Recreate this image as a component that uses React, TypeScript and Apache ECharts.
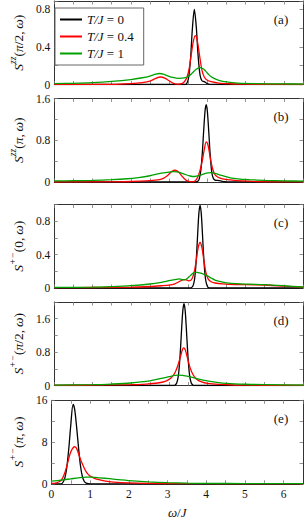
import React, { useEffect, useRef } from 'react';
import * as echarts from 'echarts';

// ---------------- data ----------------
const SERIES_NAMES = ['T/J = 0', 'T/J = 0.4', 'T/J = 1'];
const X_MIN = 0;
const X_MAX = 6.5;
const X_TICK_STEP = 0.5;
const PANEL_TAGS = ['(a)', '(b)', '(c)', '(d)', '(e)'];
const Y_MAX = [0.89, 1.6, 1.0, 2.0, 16];
const Y_TICK_STEP = [0.2, 0.4, 0.2, 0.4, 4];
const Y_LABEL_STEP = [0.4, 0.8, 0.4, 0.8, 8];
const Y_NAMES = [
  '{s|S}{p|zz}{n|(}{s|π}{n|/2,\u2009}{s|ω}{n|)}',
  '{s|S}{p|zz}{n|(}{s|π}{n|,\u2009}{s|ω}{n|)}',
  '{s|S}{p|+−}{n|(0,\u2009}{s|ω}{n|)}',
  '{s|S}{p|+−}{n|(}{s|π}{n|/2,\u2009}{s|ω}{n|)}',
  '{s|S}{p|+−}{n|(}{s|π}{n|,\u2009}{s|ω}{n|)}',
];

// (a) S^zz(pi/2, w)
const A_T0 = [[0,0],[3.4,0],[3.46,0.01],[3.51,0.07],[3.56,0.27],[3.61,0.6],[3.66,0.8],[3.71,0.62],[3.76,0.3],[3.81,0.1],[3.86,0.04],[3.92,0.03],[4.0,0.01],[4.1,0],[6.5,0]];
const A_T04 = [[0,0],[1.5,0.002],[2.0,0.01],[2.3,0.02],[2.5,0.035],[2.65,0.065],[2.78,0.08],[2.9,0.065],[3.0,0.04],[3.1,0.015],[3.2,0.004],[3.3,0.006],[3.4,0.03],[3.47,0.08],[3.53,0.18],[3.58,0.32],[3.64,0.47],[3.69,0.52],[3.74,0.46],[3.8,0.3],[3.86,0.15],[3.92,0.08],[4.0,0.045],[4.1,0.03],[4.3,0.015],[4.6,0.008],[5,0.003],[6.5,0]];
const A_T1 = [[0,0.01],[0.5,0.013],[1,0.02],[1.5,0.033],[2,0.053],[2.3,0.072],[2.5,0.09],[2.65,0.11],[2.75,0.117],[2.85,0.11],[2.95,0.095],[3.1,0.075],[3.25,0.065],[3.4,0.07],[3.5,0.085],[3.6,0.12],[3.7,0.16],[3.8,0.18],[3.88,0.17],[3.96,0.14],[4.05,0.1],[4.15,0.07],[4.3,0.045],[4.5,0.027],[4.8,0.015],[5.2,0.01],[6,0.006],[6.5,0.005]];

// (b) S^zz(pi, w)
const B_T0 = [[0,0],[3.7,0],[3.75,0.013],[3.79,0.066],[3.83,0.22],[3.87,0.57],[3.9,0.93],[3.94,1.36],[3.97,1.48],[4.0,1.36],[4.04,0.93],[4.07,0.57],[4.11,0.22],[4.15,0.08],[4.2,0.035],[4.27,0.03],[4.35,0.02],[4.45,0.005],[4.55,0],[6.5,0]];
const B_T04 = [[0,0],[1.5,0.003],[2.0,0.01],[2.4,0.02],[2.7,0.04],[2.85,0.07],[2.97,0.13],[3.07,0.2],[3.16,0.225],[3.25,0.19],[3.34,0.11],[3.42,0.05],[3.5,0.015],[3.6,0.003],[3.68,0.02],[3.74,0.08],[3.8,0.2],[3.86,0.38],[3.92,0.62],[3.97,0.77],[4.02,0.7],[4.08,0.45],[4.14,0.25],[4.2,0.14],[4.28,0.09],[4.4,0.06],[4.6,0.04],[4.9,0.02],[5.3,0.008],[6,0.003],[6.5,0.002]];
const B_T1 = [[0,0.02],[0.5,0.025],[1,0.032],[1.5,0.045],[1.9,0.062],[2.2,0.085],[2.5,0.12],[2.8,0.17],[3.0,0.19],[3.12,0.2],[3.25,0.19],[3.4,0.15],[3.55,0.115],[3.66,0.105],[3.8,0.125],[3.95,0.165],[4.08,0.18],[4.2,0.165],[4.4,0.12],[4.6,0.08],[4.8,0.06],[5.1,0.045],[5.5,0.032],[6,0.022],[6.5,0.015]];

// (c) S^+-(0, w)
const C_T0 = [[0,0],[3.55,0],[3.58,0.003],[3.62,0.02],[3.66,0.087],[3.69,0.21],[3.72,0.41],[3.75,0.67],[3.78,0.9],[3.81,0.99],[3.84,0.9],[3.87,0.67],[3.9,0.41],[3.93,0.21],[3.96,0.087],[4.0,0.02],[4.04,0.003],[4.1,0],[6.5,0]];
const C_T04 = [[0,0.004],[1,0.006],[2,0.01],[2.5,0.018],[2.8,0.027],[3.0,0.035],[3.15,0.05],[3.28,0.08],[3.38,0.1],[3.45,0.098],[3.53,0.085],[3.6,0.11],[3.66,0.2],[3.71,0.33],[3.76,0.48],[3.81,0.545],[3.86,0.48],[3.91,0.33],[3.96,0.19],[4.02,0.11],[4.1,0.075],[4.2,0.06],[4.4,0.05],[4.75,0.042],[5.2,0.038],[5.6,0.033],[6,0.022],[6.5,0.01]];
const C_T1 = [[0,0.007],[1,0.01],[1.5,0.017],[2,0.028],[2.5,0.048],[2.8,0.068],[3.0,0.087],[3.15,0.1],[3.27,0.11],[3.37,0.097],[3.45,0.105],[3.55,0.145],[3.63,0.18],[3.7,0.19],[3.8,0.18],[3.9,0.165],[4.0,0.145],[4.1,0.12],[4.2,0.095],[4.35,0.075],[4.5,0.062],[4.75,0.052],[5.1,0.046],[5.5,0.04],[6,0.027],[6.5,0.012]];

// (d) S^+-(pi/2, w)
const D_T0 = [[0,0],[3.12,0],[3.16,0.012],[3.2,0.06],[3.24,0.22],[3.27,0.49],[3.3,0.9],[3.33,1.39],[3.36,1.8],[3.39,1.96],[3.42,1.8],[3.45,1.39],[3.48,0.9],[3.51,0.49],[3.54,0.22],[3.58,0.06],[3.62,0.012],[3.66,0],[6.5,0]];
const D_T04 = [[0,0.005],[1,0.008],[2,0.02],[2.4,0.035],[2.7,0.06],[2.9,0.1],[3.05,0.18],[3.15,0.3],[3.23,0.48],[3.3,0.7],[3.35,0.86],[3.38,0.9],[3.42,0.86],[3.47,0.7],[3.54,0.45],[3.62,0.27],[3.72,0.15],[3.85,0.085],[4.0,0.05],[4.3,0.025],[4.7,0.012],[5.5,0.005],[6.5,0.003]];
const D_T1 = [[0,0.01],[1,0.02],[1.5,0.035],[2,0.06],[2.5,0.11],[2.8,0.17],[3.0,0.21],[3.15,0.24],[3.25,0.25],[3.35,0.245],[3.5,0.22],[3.75,0.16],[4.0,0.11],[4.25,0.075],[4.5,0.05],[5,0.03],[5.5,0.02],[6.5,0.01]];

// (e) S^+-(pi, w)
const E_T0 = [[0,0],[0.25,0],[0.3,0.3],[0.35,1.2],[0.4,3.3],[0.45,6.8],[0.5,11.2],[0.56,15.2],[0.6,14.3],[0.65,11],[0.7,7],[0.75,3.5],[0.8,1.4],[0.85,0.45],[0.9,0.12],[0.95,0.02],[1.0,0],[6.5,0]];
const E_T04 = [[0,0.1],[0.1,0.15],[0.2,0.4],[0.27,0.85],[0.33,1.8],[0.38,2.9],[0.43,4.3],[0.48,5.7],[0.54,6.7],[0.6,7.1],[0.65,6.8],[0.7,5.8],[0.76,4.5],[0.83,3.3],[0.9,2.3],[0.98,1.6],[1.1,1.1],[1.23,0.8],[1.4,0.5],[1.6,0.33],[2,0.16],[2.5,0.08],[3,0.05],[4,0.02],[5,0.01],[6.5,0.005]];
const E_T1 = [[0,0.5],[0.25,0.7],[0.5,0.95],[0.7,1.15],[0.9,1.28],[1.05,1.28],[1.25,1.15],[1.5,0.98],[1.8,0.75],[2.1,0.55],[2.5,0.37],[3,0.22],[3.5,0.13],[4,0.08],[5,0.04],[6.5,0.02]];

const PANEL_DATA = [
  [A_T0, A_T04, A_T1],
  [B_T0, B_T04, B_T1],
  [C_T0, C_T04, C_T1],
  [D_T0, D_T04, D_T1],
  [E_T0, E_T04, E_T1],
];

// ---------------- style ----------------
const COLORS = ['#000000', '#ff0000', '#00a000'];
const FONT = "'Liberation Serif', 'DejaVu Serif', serif";
const GRID_LEFT = 44;
const GRID_WIDTH = 259;
const GRID_TOPS = [1, 98.5, 204.5, 302, 400.3];
const GRID_HEIGHT = 83.5;
const AXIS_COLOR = '#333';
const TICK_COLOR = '#777';

function isMultiple(v: number, step: number) {
  const r = v / step;
  return Math.abs(r - Math.round(r)) < 1e-6;
}
function fmt(v: number) {
  return String(Math.round(v * 100) / 100);
}

export default function App() {
  const ref = useRef<HTMLDivElement>(null);
  useEffect(() => {
    if (!ref.current) return;
    const chart = echarts.init(ref.current, undefined, { renderer: 'svg' });
    const n = PANEL_DATA.length;
    const grid: any[] = [];
    const xAxis: any[] = [];
    const yAxis: any[] = [];
    const series: any[] = [];
    const graphic: any[] = [];
    const tickCommon = { show: true, inside: true, length: 3.5, lineStyle: { color: TICK_COLOR, width: 0.8 } };
    const lineCommon = { show: true, onZero: false, lineStyle: { color: AXIS_COLOR, width: 1 } };
    for (let p = 0; p < n; p++) {
      grid.push({ left: GRID_LEFT, top: GRID_TOPS[p], width: GRID_WIDTH, height: GRID_HEIGHT, containLabel: false });
      const last = p === n - 1;
      xAxis.push({
        type: 'value', gridIndex: p, min: X_MIN, max: X_MAX, interval: X_TICK_STEP, position: 'bottom',
        axisLine: lineCommon, axisTick: tickCommon, splitLine: { show: false },
        axisLabel: {
          show: last, margin: 4, fontFamily: FONT, fontSize: 11.5, color: '#111',
          showMaxLabel: false,
          formatter: (v: number) => (isMultiple(v, 1) ? fmt(v) : ''),
        },
        name: last ? '{i|ω}{n|/}{i|J}' : '',
        nameLocation: 'middle', nameGap: 22,
        nameTextStyle: { rich: { i: { fontFamily: FONT, fontSize: 13, fontStyle: 'italic', color: '#111' }, n: { fontFamily: FONT, fontSize: 13, color: '#111' } } },
      });
      xAxis.push({
        type: 'value', gridIndex: p, min: X_MIN, max: X_MAX, interval: X_TICK_STEP, position: 'top',
        axisLine: lineCommon, axisTick: tickCommon, splitLine: { show: false }, axisLabel: { show: false },
      });
      const lstep = Y_LABEL_STEP[p];
      const ymax = Y_MAX[p];
      yAxis.push({
        type: 'value', gridIndex: p, min: 0, max: ymax, interval: Y_TICK_STEP[p], position: 'left',
        axisLine: lineCommon, axisTick: tickCommon, splitLine: { show: false },
        axisLabel: {
          margin: 4, fontFamily: FONT, fontSize: 11.5, color: '#111',
          formatter: (v: number) => (isMultiple(v, lstep) ? fmt(v) : ''),
        },
        name: Y_NAMES[p], nameLocation: 'middle', nameRotate: 90, nameGap: 24,
        nameTextStyle: {
          rich: {
            s: { fontFamily: FONT, fontSize: 13.5, fontStyle: 'italic', color: '#111', lineHeight: 17, verticalAlign: 'bottom' },
            p: { fontFamily: FONT, fontSize: 9.5, fontStyle: 'italic', color: '#111', lineHeight: 10, verticalAlign: 'top' },
            n: { fontFamily: FONT, fontSize: 13.5, color: '#111', lineHeight: 17, verticalAlign: 'bottom' },
          },
        },
      });
      yAxis.push({
        type: 'value', gridIndex: p, min: 0, max: ymax, interval: Y_TICK_STEP[p], position: 'right',
        axisLine: lineCommon, axisTick: tickCommon, splitLine: { show: false }, axisLabel: { show: false },
      });
      PANEL_DATA[p].forEach((d, s) => {
        series.push({
          type: 'line', name: SERIES_NAMES[s], xAxisIndex: 2 * p, yAxisIndex: 2 * p, data: d,
          showSymbol: false, symbol: 'none', smooth: 0.3, clip: true,
          lineStyle: { color: COLORS[s], width: 1.3 }, itemStyle: { color: COLORS[s] },
        });
      });
      graphic.push({
        type: 'text', x: 281, y: GRID_TOPS[p] + 18,
        style: { text: PANEL_TAGS[p], fontFamily: FONT, fontSize: 13, fill: '#111', align: 'center', verticalAlign: 'middle' },
      });
    }
    chart.setOption({
      animation: false,
      backgroundColor: '#fff',
      grid, xAxis, yAxis, series, graphic,
      legend: {
        left: 55, top: 8, orient: 'vertical', icon: 'rect', itemWidth: 22, itemHeight: 2, itemGap: 4,
        padding: [5, 10, 5, 5], borderColor: '#666', borderWidth: 1, backgroundColor: '#fff',
        data: SERIES_NAMES,
        formatter: (name: string) => name.replace('T/J', '{i|T/J}'),
        textStyle: {
          fontFamily: FONT, fontSize: 13, color: '#111',
          rich: { i: { fontFamily: FONT, fontSize: 13, fontStyle: 'italic', color: '#111' } },
        },
      },
    });
    return () => chart.dispose();
  }, []);
  return <div ref={ref} style={{ position: 'absolute', left: 0, top: 0, width: 305, height: 521 }} />;
}
